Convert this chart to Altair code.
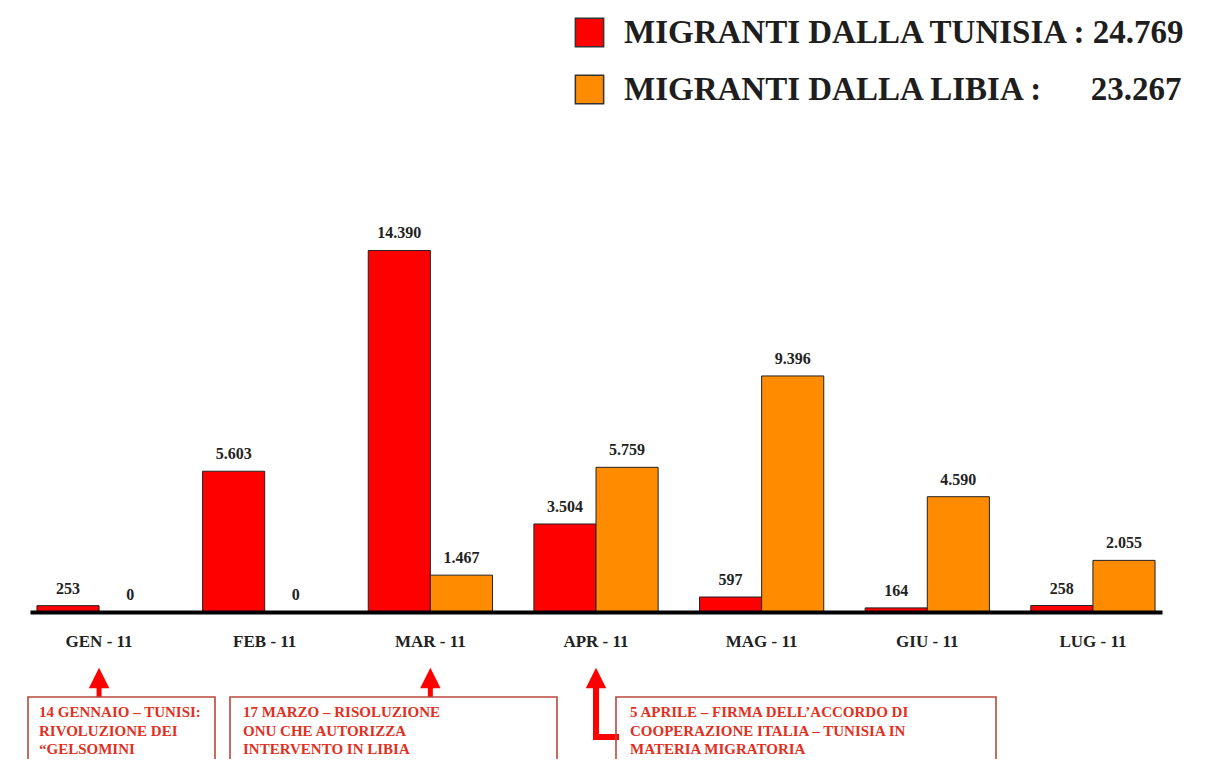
import altair as alt
import pandas as pd

# ---- data ----
months = ["GEN - 11", "FEB - 11", "MAR - 11", "APR - 11", "MAG - 11", "GIU - 11", "LUG - 11"]
series = ["MIGRANTI DALLA TUNISIA", "MIGRANTI DALLA LIBIA"]
tunisia = [253, 5603, 14390, 3504, 597, 164, 258]
libia = [0, 0, 1467, 5759, 9396, 4590, 2055]
totals = ["24.769", "23.267"]

note_months = ["GEN - 11", "MAR - 11", "APR - 11"]
note_texts = [
    ["14 GENNAIO \u2013 TUNISI:", "RIVOLUZIONE DEI", "\u201cGELSOMINI"],
    ["17 MARZO \u2013 RISOLUZIONE", "ONU CHE AUTORIZZA", "INTERVENTO IN LIBIA"],
    ["5 APRILE \u2013 FIRMA DELL\u2019ACCORDO DI", "COOPERAZIONE ITALIA \u2013 TUNISIA IN", "MATERIA MIGRATORIA"],
]

# ---- style / layout ----
colors = ["#ff0000", "#ff8c00"]
RED = "#ff0000"
NOTE_RED = "#e2301f"
BOX = "#b8483c"
SERIF = "Liberation Serif"
box_left = [-2, 200, 586]
box_right = [185, 527, 966]
box_top = 497
box_bottom = 600
text_left = [9, 213, 600]

rows = []
for i, m in enumerate(months):
    rows.append({"month": m, "series": series[0], "value": tunisia[i]})
    rows.append({"month": m, "series": series[1], "value": libia[i]})
df = pd.DataFrame(rows)

NB = "\u00a0"
lab_map = {
    series[0]: series[0] + " :" + NB * 1 + totals[0],
    series[1]: series[1] + " :" + NB * 6 + totals[1],
}
label_expr = "datum.label == '%s' ? '%s' : '%s'" % (series[0], lab_map[series[0]], lab_map[series[1]])

x_enc = alt.X(
    "month:N", sort=months,
    scale=alt.Scale(domain=months, paddingInner=0.25, paddingOuter=0.042),
    axis=alt.Axis(title=None, labelAngle=0, ticks=False, domainColor="#000", domainWidth=4,
                  labelFont=SERIF, labelFontSize=17, labelFontWeight="bold", labelColor="#222",
                  labelPadding=21, grid=False, zindex=1),
)
xoff = alt.XOffset("series:N", sort=series, scale=alt.Scale(domain=series, paddingInner=0, paddingOuter=0))
y_enc = alt.Y("value:Q", scale=alt.Scale(domain=[0, 16400]), axis=None)

bars = alt.Chart(df).mark_bar(stroke="#222", strokeWidth=1).encode(
    x=x_enc, xOffset=xoff, y=y_enc,
    color=alt.Color(
        "series:N", scale=alt.Scale(domain=series, range=colors),
        legend=alt.Legend(
            title=None, orient="none", legendX=543, legendY=-184, padding=0,
            symbolType="square", symbolSize=800, symbolStrokeColor="#333", symbolStrokeWidth=1.5,
            symbolOpacity=1, labelFont=SERIF, labelFontSize=33, labelFontWeight="bold",
            labelColor="#1e1e1e", labelOffset=18, rowPadding=22, labelLimit=0, labelExpr=label_expr,
        ),
    ),
)

labels = alt.Chart(df).transform_calculate(
    lab="replace(format(datum.value, ','), ',', '.')"
).mark_text(font=SERIF, fontSize=16, fontWeight="bold", color="#222", baseline="bottom", dy=-9).encode(
    x=alt.X("month:N", sort=months), xOffset=xoff, y=y_enc, text="lab:N"
)

arrow_df = pd.DataFrame({"month": note_months})
shaft = alt.Chart(arrow_df).mark_rule(color=RED, strokeWidth=5).encode(
    x=alt.X("month:N", sort=months), y=alt.value(484), y2=alt.value(497)
)
heads = alt.Chart(arrow_df).mark_point(
    shape="M0,-1L1,1L-1,1Z", filled=True, color=RED, size=420, opacity=1
).encode(x=alt.X("month:N", sort=months), y=alt.value(478))
apr = alt.Chart(arrow_df).transform_filter(alt.datum.month == note_months[2])
l_vert = apr.mark_rule(color=RED, strokeWidth=6, strokeCap="square").encode(
    x=alt.X("month:N", sort=months), y=alt.value(484), y2=alt.value(537)
)
l_horiz = apr.mark_rule(color=RED, strokeWidth=6, strokeCap="square").encode(
    x=alt.X("month:N", sort=months), x2=alt.value(box_left[2]), y=alt.value(537)
)

one = pd.DataFrame({"k": [0]})
note_layers = []
for i in range(len(note_texts)):
    note_layers.append(
        alt.Chart(one).mark_rect(fill="white", fillOpacity=0, stroke=BOX, strokeWidth=1.6).encode(
            x=alt.value(box_left[i]), x2=alt.value(box_right[i]),
            y=alt.value(box_top), y2=alt.value(box_bottom)
        )
    )
    note_layers.append(
        alt.Chart(one).mark_text(
            align="left", baseline="middle", font=SERIF, fontSize=15, fontWeight="bold",
            color=NOTE_RED, lineHeight=18.5
        ).encode(x=alt.value(text_left[i]), y=alt.value(512), text=alt.value(note_texts[i]))
    )

chart = alt.layer(bars, labels, shaft, heads, l_vert, l_horiz, *note_layers).properties(
    width=1132, height=412,
    autosize=alt.AutoSizeParams(type="none"),
    padding={"left": 22, "top": 192, "right": 41, "bottom": 147},
    background="white",
).configure_view(stroke=None)

chart.save("out.html", embed_options={"renderer": "svg", "actions": False})
